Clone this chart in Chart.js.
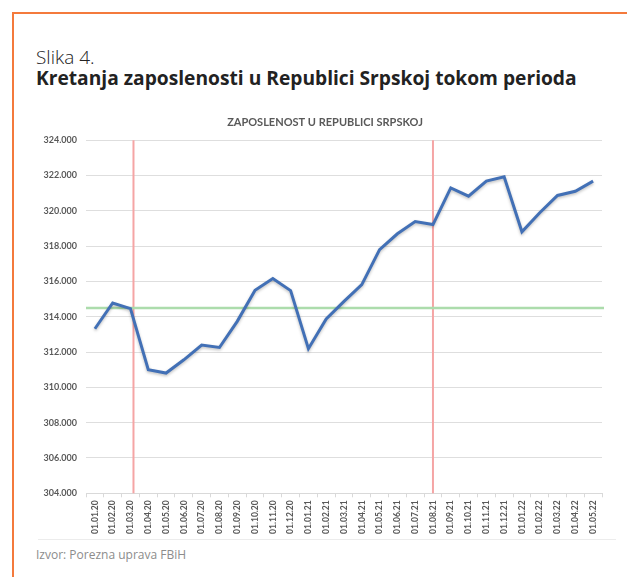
<!DOCTYPE html>
<html lang="bs">
<head>
<meta charset="UTF-8" />
<title>Slika 4</title>
<script src="https://cdn.jsdelivr.net/npm/chart.js"></script>
<style>
  body { margin: 0; background: #fff; width: 627px; height: 577px; overflow: hidden; position: relative; font-family: "Open Sans", sans-serif; }
  .frame { position: absolute; left: 12px; top: 12px; right: -2px; bottom: -2px; border-top: 2px solid #f47a3c; border-left: 2px solid #f47a3c; }
  .fig { position: absolute; left: 36px; top: 44px; font-size: 19px; font-weight: 300; color: #222; }
  .head { position: absolute; left: 36px; top: 64px; font-size: 19.2px; font-weight: 700; color: #222; }
  .chartbox { position: absolute; left: 20px; top: 100px; width: 600px; height: 440px; }
  .rule { position: absolute; left: 38px; top: 539px; width: 578px; height: 1px; background: #ececec; }
  .src { position: absolute; left: 36px; top: 546px; font-size: 12px; color: #8c8c8c; }
</style>
</head>
<body>
<div class="frame"></div>
<div class="fig">Slika 4.</div>
<div class="head">Kretanja zaposlenosti u Republici Srpskoj tokom perioda</div>
<div class="chartbox"><canvas id="chart" width="600" height="440"></canvas></div>
<div class="rule"></div>
<div class="src">Izvor: Porezna uprava FBiH</div>
<script>
const months = ['01.01.20', '01.02.20', '01.03.20', '01.04.20', '01.05.20', '01.06.20', '01.07.20', '01.08.20',
  '01.09.20', '01.10.20', '01.11.20', '01.12.20', '01.01.21', '01.02.21', '01.03.21', '01.04.21', '01.05.21',
  '01.06.21', '01.07.21', '01.08.21', '01.09.21', '01.10.21', '01.11.21', '01.12.21', '01.01.22', '01.02.22',
  '01.03.22', '01.04.22', '01.05.22'];
const employed = [313320, 314780, 314460, 311000, 310810, 311560, 312400, 312260, 313740, 315500, 316160, 315480,
  312190, 313870, 314870, 315820, 317800, 318700, 319390, 319220, 321300, 320830, 321680, 321930, 318810, 319890,
  320870, 321110, 321680];
const baseline = 314500;          // green reference line
const markers = ['01.03.20', '01.08.21'];  // red vertical lines
const chartTitle = 'ZAPOSLENOST U REPUBLICI SRPSKOJ';

function fmt(v) {
  return (v / 1000).toFixed(3);
}

const refLines = {
  id: 'refLines',
  beforeDatasetsDraw(chart) {
    const { ctx, chartArea, scales } = chart;
    ctx.save();
    // vertical red markers
    ctx.strokeStyle = '#f5a5a5';
    ctx.lineWidth = 2;
    markers.forEach((m, i) => {
      let x = scales.x.getPixelForValue(months.indexOf(m));
      if (i === 0) x += 3;
      ctx.beginPath();
      ctx.moveTo(x, chartArea.top);
      ctx.lineTo(x, chartArea.bottom);
      ctx.stroke();
    });
    // horizontal green line
    const y = scales.y.getPixelForValue(baseline);
    ctx.strokeStyle = '#acdcac';
    ctx.lineWidth = 2.5;
    ctx.beginPath();
    ctx.moveTo(chartArea.left, y);
    ctx.lineTo(chartArea.right + 2, y);
    ctx.stroke();
    ctx.restore();
  },
  beforeDatasetDraw(chart) {
    const ctx = chart.ctx;
    ctx.save();
    ctx.shadowColor = 'rgba(0,0,0,0.25)';
    ctx.shadowBlur = 3;
    ctx.shadowOffsetY = 1.5;
  },
  afterDatasetDraw(chart) {
    chart.ctx.restore();
  },
  afterDraw(chart) {
    // title sits a bit left of the plot centre, as in the Excel original
    const ctx = chart.ctx;
    ctx.save();
    ctx.font = 'bold 11px Lato';
    ctx.fillStyle = '#595959';
    ctx.textAlign = 'center';
    ctx.textBaseline = 'middle';
    ctx.fillText(chartTitle, 305, 22.6);
    ctx.restore();
  }
};

new Chart(document.getElementById('chart'), {
  type: 'line',
  data: {
    labels: months,
    datasets: [{
      data: employed,
      borderColor: '#4270b6',
      borderWidth: 3,
      pointRadius: 0,
      tension: 0,
      fill: false
    }]
  },
  options: {
    responsive: false,
    animation: false,
    events: [],
    layout: { padding: { left: 0, right: 18, top: 40.2, bottom: 0 } },
    plugins: {
      legend: { display: false },
      tooltip: { enabled: false },
      title: { display: false }
    },
    scales: {
      x: {
        offset: true,
        grid: { drawOnChartArea: false, drawTicks: true, tickLength: 4, color: '#d9d9d9', offset: true },
        border: { color: '#d9d9d9' },
        ticks: {
          autoSkip: false,
          minRotation: 90,
          maxRotation: 90,
          padding: 3,
          color: '#595959',
          font: { family: 'Lato', size: 8.5, weight: 'bold' }
        },
        afterFit(s) { s.height = 46.7; }
      },
      y: {
        min: 304000,
        max: 324000,
        grid: { color: '#dedede', drawTicks: false },
        border: { display: false },
        ticks: {
          stepSize: 2000,
          padding: 9,
          color: '#595959',
          font: { family: 'Lato', size: 9, weight: 'bold' },
          callback: v => fmt(v)
        },
        afterFit(s) { s.width = 66; }
      }
    }
  },
  plugins: [refLines]
});
</script>
</body>
</html>
